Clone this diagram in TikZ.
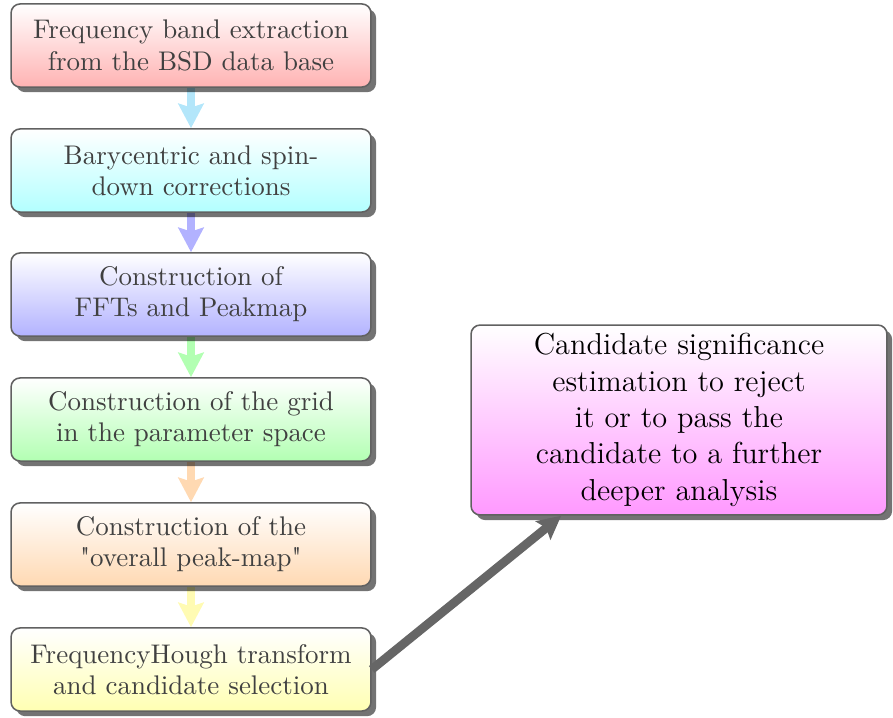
\documentclass[tikz,border=0pt]{standalone}
\usetikzlibrary{arrows.meta,shadows,backgrounds}

\definecolor{boxline}{gray}{0.38}
\definecolor{bigarrow}{gray}{0.40}

\tikzset{
  stage/.style={
    draw=boxline, line width=0.6pt, rounded corners=3.5pt,
    minimum width=139.5pt, minimum height=32.2pt,
    align=center, inner sep=2pt, text=black!75,
    font=\fontsize{10.45pt}{12.1pt}\selectfont,
    top color=white, bottom color=#1,
    drop shadow={shadow xshift=2pt, shadow yshift=-2pt, opacity=0.55, fill=black}
  },
  result/.style={
    draw=boxline, line width=0.6pt, rounded corners=3.5pt,
    minimum width=161.2pt, minimum height=73.6pt,
    align=center, inner sep=2pt, text=black,
    font=\fontsize{11.75pt}{14.1pt}\selectfont,
    top color=white, bottom color=magenta!40,
    drop shadow={shadow xshift=2pt, shadow yshift=-2pt, opacity=0.55, fill=black}
  },
  flow/.style={
    line width=3.4pt, draw=#1,
    -{Stealth[length=9.5pt, width=9.8pt, inset=1.5pt]}
  },
  finalarrow/.style={
    line width=3.4pt, draw=bigarrow,
    -{Stealth[length=9pt, width=9pt, inset=1.5pt]}
  }
}

\begin{document}
\begin{tikzpicture}[x=0.3876pt, y=-0.3876pt]
  \useasboundingbox (0,0) rectangle (893,718);

  % processing stages, top to bottom
  \node[stage=red!30]    (s1) at (191,45.5)  {Frequency band extraction\\from the BSD data base};
  \node[stage=cyan!30]   (s2) at (191,170.5) {Barycentric and spin-\\down corrections};
  \node[stage=blue!30]   (s3) at (191,294.5) {Construction of\\FFTs and Peakmap};
  \node[stage=green!30]  (s4) at (191,419.5) {Construction of the grid\\in the parameter space};
  \node[stage=orange!30] (s5) at (191,544.5) {Construction of the\\\textquotedbl overall peak-map\textquotedbl};
  \node[stage=yellow!30] (s6) at (191,669.5) {FrequencyHough transform\\and candidate selection};

  % final step
  \node[result] (res) at (679,420) {Candidate significance\\estimation to reject\\it or to pass the\\candidate to a further\\deeper analysis};

  % links between stages, kept behind the boxes and their shadows
  \begin{pgfonlayer}{background}
    \draw[flow=cyan!30]   (s1.south) -- (s2.north);
    \draw[flow=blue!30]   (s2.south) -- (s3.north);
    \draw[flow=green!30]  (s3.south) -- (s4.north);
    \draw[flow=orange!30] (s4.south) -- (s5.north);
    \draw[flow=yellow!30] (s5.south) -- (s6.north);
  \end{pgfonlayer}

  \draw[finalarrow] (s6.east) -- (res);
\end{tikzpicture}
\end{document}
